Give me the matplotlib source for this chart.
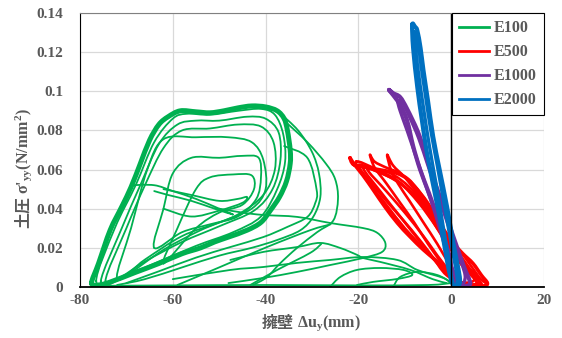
import matplotlib
matplotlib.use("Agg")
import matplotlib.pyplot as plt
from matplotlib.path import Path
from matplotlib.patches import PathPatch
from matplotlib.lines import Line2D
import numpy as np

plt.rcParams['font.family'] = ['Liberation Serif', 'Noto Sans CJK JP']
plt.rcParams['font.weight'] = 'bold'
plt.rcParams['axes.unicode_minus'] = False
plt.rcParams['mathtext.fontset'] = 'custom'
plt.rcParams['mathtext.rm'] = 'Liberation Serif:bold'
plt.rcParams['mathtext.it'] = 'Liberation Serif:bold'
plt.rcParams['mathtext.bf'] = 'Liberation Serif:bold'

# ---- data: (wall displacement mm, earth pressure N/mm2) ----
# E100
g_outer = [(-77.5, 0.002), (-76, 0.012), (-73.5, 0.029), (-71, 0.041), (-69, 0.051), (-67, 0.063),
           (-65, 0.075), (-63, 0.083), (-61, 0.087), (-58.4, 0.090), (-55, 0.0895), (-52, 0.089),
           (-49, 0.090), (-46, 0.0915), (-43, 0.0925), (-40, 0.092), (-37.5, 0.090), (-36, 0.086),
           (-35.3, 0.080), (-34.7, 0.070), (-34.7, 0.063), (-35.5, 0.054), (-37, 0.046), (-39, 0.039),
           (-41, 0.033), (-44, 0.029), (-48, 0.0255), (-51, 0.023), (-54, 0.020), (-58, 0.017),
           (-63, 0.012), (-68, 0.0075), (-73.5, 0.0025), (-76, 0.001), (-77.5, 0.002)]
g_2 = [(-76.5, 0.003), (-72.5, 0.03), (-68, 0.052), (-64, 0.074), (-60, 0.086), (-57, 0.0885), (-52, 0.088),
       (-46, 0.090), (-41, 0.091), (-38, 0.088), (-36.2, 0.078), (-35.8, 0.064), (-37.5, 0.05), (-41, 0.036),
       (-47, 0.028), (-55, 0.021), (-64, 0.012), (-72, 0.004), (-76.5, 0.003)]
g_3 = [(-75.5, 0.003), (-71, 0.03), (-67, 0.052), (-63, 0.073), (-59, 0.083), (-55, 0.085), (-50, 0.085),
       (-44, 0.087), (-40, 0.086), (-37.2, 0.079), (-36.8, 0.065), (-38.5, 0.050), (-42.5, 0.039), (-50, 0.031),
       (-58, 0.023), (-66, 0.013), (-72, 0.004), (-75.5, 0.003)]
g_4 = [(-74.5, 0.003), (-70, 0.03), (-66, 0.052), (-62, 0.071), (-58, 0.080), (-52, 0.081), (-46, 0.083),
       (-41, 0.082), (-38.3, 0.074), (-38, 0.060), (-40.5, 0.047), (-46, 0.037), (-54, 0.029), (-62, 0.019),
       (-70, 0.006), (-74.5, 0.003)]
g_5 = [(-72, 0.004), (-69, 0.03), (-65.5, 0.06), (-62, 0.0755), (-55, 0.0765), (-48, 0.0765), (-43, 0.074),
       (-40.5, 0.065), (-40, 0.050), (-43, 0.040), (-50, 0.033), (-58, 0.026), (-66, 0.014), (-72, 0.004)]
g_6 = [(-64, 0.02), (-62, 0.04), (-60, 0.058), (-56, 0.066), (-50, 0.066), (-45, 0.067), (-41.5, 0.066),
       (-41, 0.056), (-42, 0.045), (-46, 0.036), (-52, 0.032), (-58, 0.028), (-64, 0.02)]
g_7 = [(-62, 0.012), (-59, 0.03), (-55, 0.05), (-52, 0.056), (-47, 0.0575), (-43, 0.057), (-42.5, 0.05),
       (-45, 0.042), (-50, 0.038), (-55, 0.030), (-62, 0.012)]
g_lens = [(-69, 0.052), (-64, 0.052), (-60, 0.049), (-55, 0.045), (-50, 0.040), (-47, 0.037), (-51, 0.040),
          (-56, 0.044), (-61, 0.047), (-64, 0.049)]
g_lobe = [(-62, 0.050), (-56, 0.047), (-50, 0.044), (-46, 0.045), (-44, 0.046), (-45, 0.043), (-50, 0.039),
          (-56, 0.036), (-62, 0.040)]
g_10 = [(-37, 0.089), (-33, 0.080), (-30, 0.069), (-28.5, 0.058), (-28.2, 0.046), (-29.7, 0.036),
        (-32.5, 0.029), (-37.5, 0.024), (-43, 0.020), (-50, 0.016), (-58, 0.010), (-66, 0.004), (-72, 0.001)]
g_11 = [(-36, 0.085), (-31, 0.074), (-27, 0.063), (-25, 0.055), (-24.4, 0.045), (-25.4, 0.034),
        (-28.9, 0.028), (-33.2, 0.020), (-36.9, 0.012), (-39.7, 0.005), (-42.7, 0.001)]
g_12 = [(-36, 0.072), (-31, 0.066), (-29, 0.0496), (-29.3, 0.0429), (-31, 0.0358), (-35.3, 0.0307),
        (-40.5, 0.0255), (-47.6, 0.0204), (-55, 0.015), (-63, 0.008), (-70, 0.002)]
g_t1 = [(-50, 0.040), (-45, 0.038), (-40.5, 0.0368), (-33.2, 0.0358), (-26.1, 0.0327), (-19, 0.0301),
        (-15.9, 0.0276), (-14.2, 0.0225), (-14.9, 0.0179), (-19, 0.0148), (-26.1, 0.0112), (-33.2, 0.0077),
        (-40.5, 0.0046), (-48, 0.002)]
g_t2 = [(-47.6, 0.0138), (-40.5, 0.0179), (-33.2, 0.0204), (-28.2, 0.0225), (-23.9, 0.0199), (-20.3, 0.0164),
        (-19, 0.0148), (-15.3, 0.0128), (-8.8, 0.0087), (-4, 0.004), (-1, 0.002)]
g_t3 = [(-60, 0.004), (-47.6, 0.0087), (-40.5, 0.0102), (-33.2, 0.0123), (-26.1, 0.0138), (-19, 0.0153),
        (-11.6, 0.0138), (-7.3, 0.0087), (-1.7, 0.0046), (-0.2, 0.002)]
g_b2 = [(-26.1, 0.0), (-23.9, 0.0051), (-20.3, 0.0087), (-15.3, 0.0097), (-10.3, 0.0087), (-8.4, 0.0061),
        (-11.6, 0.0041), (-16.8, 0.0026), (-20.3, 0.001)]
g_b3 = [(-12.5, 0.0), (-11, 0.0051), (-7.3, 0.0077), (-3, 0.0061), (-0.2, 0.0026)]
g_s1 = [(-59, 0.001), (-49.8, 0.0102), (-39.7, 0.0204), (-30.4, 0.029), (-26, 0.032)]
g_s2 = [(-43.3, 0.001), (-37.5, 0.0087), (-30.4, 0.0174), (-28, 0.022)]
g_base = [(-76, 0.0006), (-60, 0.0008), (-40, 0.001), (-20, 0.0008), (-5, 0.001), (0, 0.002)]

# E500
r_1 = [(-21.8, 0.066), (-21, 0.0625), (-18.1, 0.061), (-14.5, 0.0595), (-11.6, 0.058), (-9.3, 0.055),
       (-7.3, 0.0496), (-5, 0.042), (-3, 0.034), (-1, 0.027), (0.4, 0.0225), (2.5, 0.017), (4.7, 0.012),
       (6.5, 0.006), (7.8, 0.002), (7, 0.0005), (4, 0.001), (1.5, 0.001), (0.9, 0.001), (-0.9, 0.0087),
       (-3.5, 0.014), (-6, 0.019), (-9, 0.026), (-11.6, 0.0327), (-14.3, 0.041), (-16.8, 0.0496),
       (-19, 0.057), (-21, 0.063), (-21.8, 0.066)]
r_2 = [(-17.5, 0.0675), (-16.5, 0.064), (-14, 0.061), (-11, 0.058), (-8, 0.052), (-5, 0.043), (-2.5, 0.033),
       (0, 0.024), (3, 0.015), (6, 0.005), (7.5, 0.001), (3, 0.001), (0.5, 0.004), (-2, 0.012), (-5, 0.022),
       (-8, 0.033), (-11, 0.043), (-14, 0.053), (-16.5, 0.061), (-17.5, 0.0675)]
r_3 = [(-13.8, 0.0675), (-12.5, 0.062), (-10, 0.056), (-7, 0.047), (-4, 0.037), (-1, 0.026), (2, 0.016),
       (5, 0.006), (6.5, 0.001), (2.5, 0.002), (0, 0.01), (-3, 0.022), (-6, 0.033), (-9, 0.044),
       (-11.5, 0.053), (-13, 0.06), (-13.8, 0.0675)]
r_4 = [(-19, 0.061), (-15, 0.058), (-11, 0.053), (-7, 0.043), (-3, 0.030), (1, 0.016), (5, 0.004), (1, 0.003),
       (-3, 0.012), (-7, 0.024), (-11, 0.036), (-15, 0.048), (-19, 0.061)]
r_5 = [(-20.5, 0.064), (-16, 0.060), (-12, 0.055), (-8, 0.047), (-4, 0.036), (0, 0.022), (4, 0.008), (6, 0.002),
       (2, 0.002), (-2, 0.010), (-6, 0.020), (-10, 0.030), (-14, 0.042), (-18, 0.054), (-20.5, 0.064)]
r_6 = [(-20, 0.062), (-17, 0.0605), (-13, 0.058), (-9, 0.051), (-5.5, 0.041), (-2, 0.028), (2, 0.014),
       (6, 0.004), (3.5, 0.001), (-1, 0.006), (-4.5, 0.017), (-8.5, 0.029), (-12.5, 0.040), (-16.5, 0.051),
       (-20, 0.062)]
r_7 = [(-18, 0.060), (-14, 0.057), (-10, 0.051), (-6, 0.041), (-2, 0.026), (2, 0.012), (5.5, 0.002),
       (2, 0.002), (-2, 0.013), (-6, 0.026), (-10, 0.038), (-14, 0.049), (-18, 0.060)]

# E1000
p_1 = [(-13.4, 0.1007), (-12.5, 0.099), (-11, 0.097), (-9.5, 0.091), (-7.3, 0.080), (-5.8, 0.070),
       (-4.5, 0.060), (-3, 0.050), (-1.7, 0.041), (-0.3, 0.031), (1.3, 0.020), (2.8, 0.010), (4.1, 0.002),
       (3, 0.0005), (1.3, 0.0005), (0, 0.006), (-0.2, 0.014), (-1.5, 0.025), (-3, 0.036), (-4.8, 0.048),
       (-6.7, 0.060), (-8.2, 0.072), (-9.5, 0.085), (-11, 0.093), (-12.5, 0.098), (-13.4, 0.1007)]
p_2 = [(-11.5, 0.095), (-10.5, 0.094), (-9, 0.087), (-7, 0.076), (-5, 0.062), (-3, 0.048), (-1, 0.034),
       (1, 0.020), (3, 0.006), (2, 0.001), (0.5, 0.008), (-1.5, 0.022), (-3.5, 0.038), (-5.5, 0.052),
       (-7.5, 0.066), (-9.5, 0.080), (-11, 0.090), (-11.5, 0.095)]

# E2000
b_1 = [(-8.4, 0.134), (-7.8, 0.133), (-7.3, 0.131), (-6.6, 0.122), (-6, 0.111), (-5, 0.095), (-3.9, 0.077),
       (-2.5, 0.060), (-0.9, 0.041), (0.5, 0.022), (1.9, 0.0036), (1, 0.0005), (0.2, 0.002), (-0.8, 0.012),
       (-2.4, 0.034), (-3.8, 0.051), (-5.2, 0.068), (-6.3, 0.085), (-7.3, 0.102), (-8.2, 0.122), (-8.4, 0.134)]
b_2 = [(-8, 0.130), (-7.2, 0.125), (-6.5, 0.113), (-5.5, 0.097), (-4.4, 0.080), (-3, 0.062), (-1.5, 0.042),
       (0, 0.022), (1.3, 0.004), (0.5, 0.001), (-0.5, 0.014), (-1.8, 0.032), (-3.2, 0.052), (-4.7, 0.072),
       (-6, 0.092), (-7.2, 0.112), (-8, 0.130)]

green_inner = [g_2, g_3, g_4, g_5, g_6, g_7, g_lens, g_lobe, g_10, g_11, g_12,
               g_t1, g_t2, g_t3, g_b2, g_b3, g_s1, g_s2, g_base]
red_loops = [r_1, r_2, r_3, r_4, r_5, r_6, r_7]

GREEN, RED, PURPLE, BLUE = '#00B050', '#FF0000', '#7030A0', '#0070C0'
GRAY = '#595959'

fig = plt.figure(figsize=(5.62, 3.38), dpi=100)
ax = fig.add_axes([0.1423, 0.151, 0.8257, 0.8105])


def smooth(loop):
    # smooth line through the read points (Catmull-Rom drawn as Bezier segments)
    p = np.asarray(loop, float)
    if np.allclose(p[0], p[-1]):
        ext = np.vstack([p[-2], p, p[1]])
    else:
        ext = np.vstack([p[0], p, p[-1]])
    verts = [p[0]]
    codes = [Path.MOVETO]
    for i in range(len(p) - 1):
        p0, p1, p2, p3 = ext[i], ext[i + 1], ext[i + 2], ext[i + 3]
        verts += [p1 + (p2 - p0) / 6, p2 - (p3 - p1) / 6, p2]
        codes += [Path.CURVE4] * 3
    return Path(verts, codes)


def draw(loop, color, lw):
    ax.add_patch(PathPatch(smooth(loop), fill=False, edgecolor=color, lw=lw,
                           joinstyle='round', capstyle='round'))


draw(g_outer, GREEN, 3.6)
for lp in green_inner:
    draw(lp, GREEN, 1.3)
draw(r_1, RED, 2.6)
for lp in red_loops[1:]:
    draw(lp, RED, 1.9)
draw(p_1, PURPLE, 3.0)
draw(p_2, PURPLE, 2.4)
draw(b_1, BLUE, 3.0)
draw(b_2, BLUE, 2.4)

ax.axvline(0, color='black', lw=1.0, zorder=1)

ax.set_xlim(-80, 20)
ax.set_ylim(0, 0.14)
ax.set_xticks([-80, -60, -40, -20, 0, 20])
ax.set_yticks([0, 0.02, 0.04, 0.06, 0.08, 0.1, 0.12, 0.14])
ax.set_yticklabels(['0', '0.02', '0.04', '0.06', '0.08', '0.1', '0.12', '0.14'])
ax.grid(True, color='#D9D9D9', lw=0.9)
ax.set_axisbelow(True)
ax.tick_params(length=0, labelsize=11, labelcolor=GRAY)
ax.tick_params(axis='y', pad=12)
ax.tick_params(axis='x', pad=5)
for t in ax.get_xticklabels() + ax.get_yticklabels():
    t.set_fontweight('bold')
ax.spines['right'].set_visible(False)
ax.spines['top'].set_color('#808080')
ax.spines['top'].set_linewidth(0.8)
ax.spines['left'].set_color('black')
ax.spines['bottom'].set_color('black')
ax.spines['bottom'].set_linewidth(1.3)

# axis titles: Japanese part and math part as separate texts
fig.text(294 / 562, 1 - 323 / 338, "擁壁", family='Noto Sans CJK JP', fontweight='bold',
         fontsize=11.5, color=GRAY, ha='right', va='center')
fig.text(297 / 562, 1 - 323 / 338, "Δu$_{\\mathrm{y}}$(mm)", fontsize=11.5, color=GRAY,
         fontweight='bold', ha='left', va='center')
fig.text(23 / 562, 1 - 196 / 338, "土圧", family='Noto Sans CJK JP', fontweight='bold',
         fontsize=11.5, color=GRAY, rotation=90, ha='center', va='top')
fig.text(24 / 562, 1 - 194 / 338, "σ'$_{\\mathrm{yy}}$(N/mm$^{\\mathrm{2}}$)", fontsize=11.5, color=GRAY,
         fontweight='bold', rotation=90, ha='center', va='bottom')

handles = [Line2D([], [], color=c, lw=2) for c in (GREEN, RED, PURPLE, BLUE)]
leg = ax.legend(handles, ['E100', 'E500', 'E1000', 'E2000'], loc='upper right',
                bbox_to_anchor=(1.0, 1.0), borderaxespad=0, fancybox=False,
                edgecolor='black', framealpha=1, handlelength=1.9, handletextpad=0.3,
                labelspacing=0.5, borderpad=0.45, prop={'size': 11.5, 'weight': 'bold'})
leg.get_frame().set_linewidth(0.8)
for t in leg.get_texts():
    t.set_color(GRAY)

fig.savefig('out.png', dpi=100)
